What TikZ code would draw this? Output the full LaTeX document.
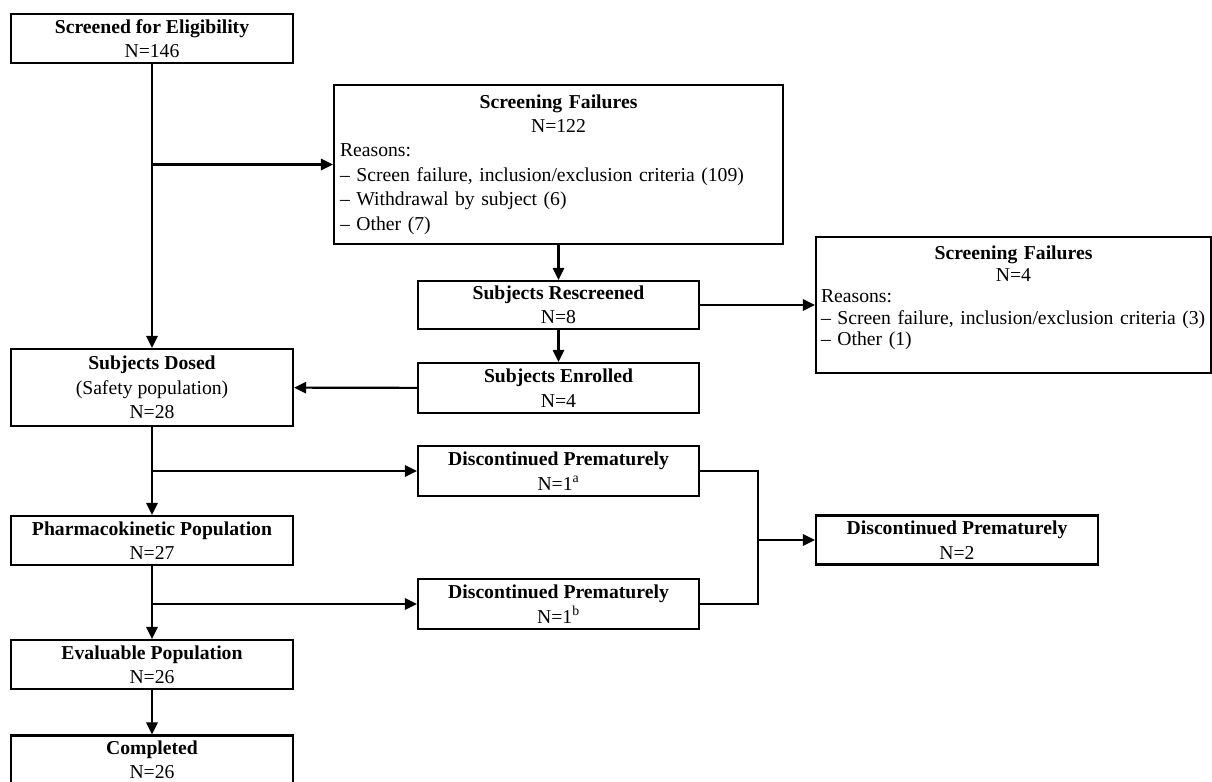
\documentclass[tikz,border=0pt]{standalone}
\usepackage{fontspec}
\setmainfont{Liberation Serif}
\usetikzlibrary{arrows.meta}

\begin{document}
\begin{tikzpicture}[font=\fontsize{14}{17.4}\selectfont, >={Triangle[length=0.3cm,width=0.28cm]}]
%boite : cadre de base du diagramme, fleche : liaison entre deux boites
\tikzset{boite/.style={draw,line width=1.5pt,minimum width=7.05cm,minimum height=1.225cm,align=center,inner sep=0pt},
         fleche/.style={line width=1.5pt,->},
         liste/.style={boite,align=left,inner ysep=0pt}}
\useasboundingbox (0,0) rectangle (30.3,-19.55);

%colonne de gauche
\node[boite] (screened) at (3.8,-0.9625) {\textbf{Screened for Eligibility}\\N=146};
\node[boite,minimum height=1.925cm] (dosed) at (3.8,-9.6875) {\textbf{Subjects Dosed}\\(Safety population)\\N=28};
\node[boite] (pk) at (3.8,-13.5125) {\textbf{Pharmacokinetic Population}\\N=27};
\node[boite] (evaluable) at (3.8,-16.6125) {\textbf{Evaluable Population}\\N=26};
\node[boite] (completed) at (3.8,-19.0) {\textbf{Completed}\\N=26};

%colonne du milieu
\node[liste,minimum width=11.225cm,minimum height=3.975cm,text width=10.925cm,inner xsep=0.15cm] (fail1) at (13.9625,-4.1125)
  {{\centering\textbf{Screening Failures}\\N=122\par}Reasons:\\– Screen failure, inclusion/exclusion criteria (109)\\– Withdrawal by subject (6)\\– Other (7)};
\node[boite,minimum width=7.025cm,minimum height=1.2cm] (rescreened) at (13.9625,-7.625) {\textbf{Subjects Rescreened}\\N=8};
\node[boite,minimum width=7.025cm,minimum height=1.25cm] (enrolled) at (13.9625,-9.7) {\textbf{Subjects Enrolled}\\N=4};
\node[boite,minimum width=7.025cm,minimum height=1.25cm] (discA) at (13.9625,-11.775) {\textbf{Discontinued Prematurely}\\N=1\textsuperscript{a}};
\node[boite,minimum width=7.025cm,minimum height=1.25cm] (discB) at (13.9625,-15.1) {\textbf{Discontinued Prematurely}\\N=1\textsuperscript{b}};

%colonne de droite
\node[liste,minimum width=9.875cm,minimum height=3.4cm,text width=9.625cm,inner xsep=0.125cm,font=\fontsize{14}{15.3}\selectfont] (fail2) at (25.3375,-7.625)
  {{\centering\textbf{Screening Failures}\\N=4\par}Reasons:\\– Screen failure, inclusion/exclusion criteria (3)\\– Other (1)\par\vspace{0.35cm}\hrule height 0pt};
\node[boite] (disc2) at (23.925,-13.5) {\textbf{Discontinued Prematurely}\\N=2};
\coordinate (join) at (18.95,-13.5); %point de jonction des deux arrets

%liaisons
\draw[fleche] (screened) -- (dosed);
\draw[fleche] (screened |- fail1.west) -- (fail1.west);
\draw[fleche] (fail1) -- (rescreened);
\draw[fleche] (rescreened) -- (enrolled);
\draw[fleche] (rescreened) -- (fail2);
\draw[fleche] (enrolled) -- (dosed);
\draw[fleche] (dosed) -- (pk);
\draw[fleche] (dosed |- discA) -- (discA);
\draw[fleche] (pk) -- (evaluable);
\draw[fleche] (pk |- discB) -- (discB);
\draw[fleche] (evaluable) -- (completed);
\draw[line width=1.5pt] (discA.east) -| (join) |- (discB.east);
\draw[fleche] (join) -- (disc2);
\end{tikzpicture}
\end{document}
